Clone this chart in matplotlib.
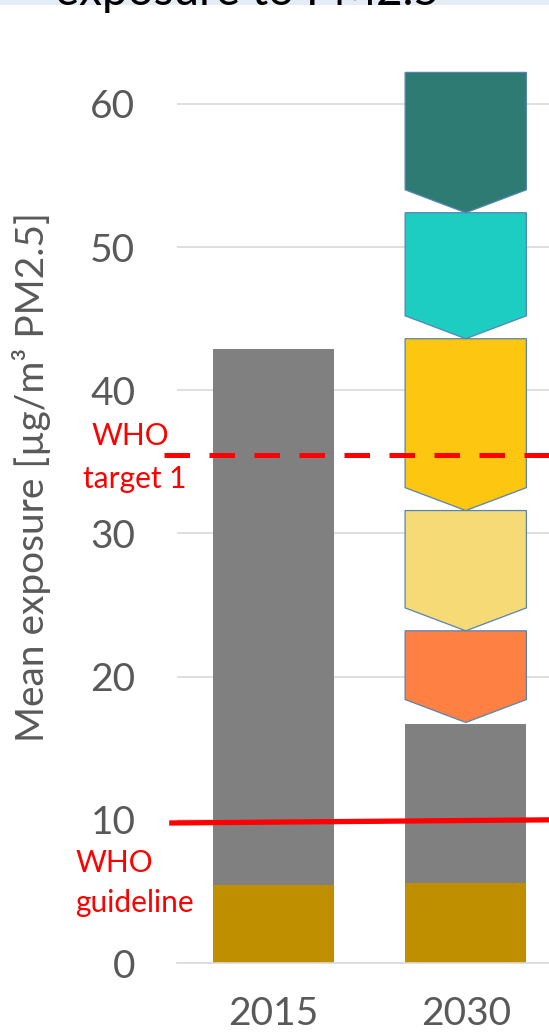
import numpy as np
import matplotlib
matplotlib.use('Agg')
from matplotlib import pyplot as plt
from matplotlib.patches import Rectangle

plt.rcParams['font.family'] = ['Lato', 'DejaVu Sans']

# data
years = ['2015', '2030']
natural = [5.45, 5.6]          # olive bottom part
total = [42.9, 16.7]           # top of the grey part
# 2030 reduction steps (chevrons), from bottom to top
step_bounds = [16.8, 23.2, 31.6, 43.6, 52.4, 62.2]
step_colors = ['#FF8043', '#F6DA75', '#FDC611', '#1ECDC1', '#2D7B73']
who_target1 = 35.5
who_guideline = [9.78, 10.0]   # line is drawn slightly tilted

fig = plt.figure(figsize=(5.49, 10.35), dpi=100)
ax = fig.add_axes([177 / 549, 72 / 1035, 1 - 177 / 549, 945 / 1035])

x = np.arange(len(years))
w = 0.63
grey = [t - n for t, n in zip(total, natural)]
ax.bar(x, natural, width=w, color='#BF8F00', zorder=2)
ax.bar(x, grey, width=w, bottom=natural, color='#808080', zorder=2)

# chevrons pointing down
d = 1.6
xc = x[1]
for i, col in enumerate(step_colors):
    bot, top = step_bounds[i], step_bounds[i + 1]
    px = [xc - w / 2, xc + w / 2, xc + w / 2, xc, xc - w / 2]
    py = [top, top, bot + d, bot, bot + d]
    ax.fill(px, py, facecolor=col, edgecolor='#5585B5', linewidth=0.9, zorder=3)

ax.set_xlim(-0.5, -0.5 + 372 / 192.5)
ax.set_ylim(0, 66)
ax.set_yticks(range(0, 61, 10))
ax.set_xticks(x)
ax.set_xticklabels(years)
ax.yaxis.grid(True, color='#D9D9D9', linewidth=1.2, zorder=0)
ax.set_axisbelow(True)
for s in ['left', 'right', 'top']:
    ax.spines[s].set_visible(False)
ax.spines['bottom'].set_color('#D9D9D9')
ax.spines['bottom'].set_linewidth(1.2)
ax.tick_params(axis='both', length=0, labelsize=28, colors='#595959')
ax.tick_params(axis='y', pad=30)
ax.tick_params(axis='x', pad=24)

# WHO lines
ax.plot([-0.569, 1.45], [who_target1, who_target1], color='#FF0000', lw=3.6,
        dashes=(5.1, 3.9), clip_on=False, zorder=4)
ax.plot([-0.527, 1.45], who_guideline, color='#FF0000', lw=3.8,
        clip_on=False, zorder=4)

fig.text(130 / 549, 1 - 445 / 1035, 'WHO', color='#FF0000', fontsize=21.5,
         ha='center', va='baseline')
fig.text(135 / 549, 1 - 488 / 1035, 'target 1', color='#FF0000', fontsize=21.5,
         ha='center', va='baseline')
fig.text(76 / 549, 1 - 872 / 1035, 'WHO', color='#FF0000', fontsize=21.5,
         ha='left', va='baseline')
fig.text(75 / 549, 1 - 912 / 1035, 'guideline', color='#FF0000', fontsize=21.5,
         ha='left', va='baseline')

fig.text(32 / 549, 1 - 477 / 1035, 'Mean exposure [µg/m³ PM2.5]', rotation=90,
         color='#595959', fontsize=28, ha='center', va='center')

# cut-off title band at the top
fig.patches.append(Rectangle((0, 1 - 5 / 1035), 1, 5 / 1035, transform=fig.transFigure,
                             facecolor='#E4EDF6', edgecolor='none', zorder=0))
fig.text(55 / 549, 1 - 5 / 1035, 'exposure to PM2.5', color='black', fontsize=33,
         ha='left', va='baseline')

fig.savefig('out.png', dpi=100)
